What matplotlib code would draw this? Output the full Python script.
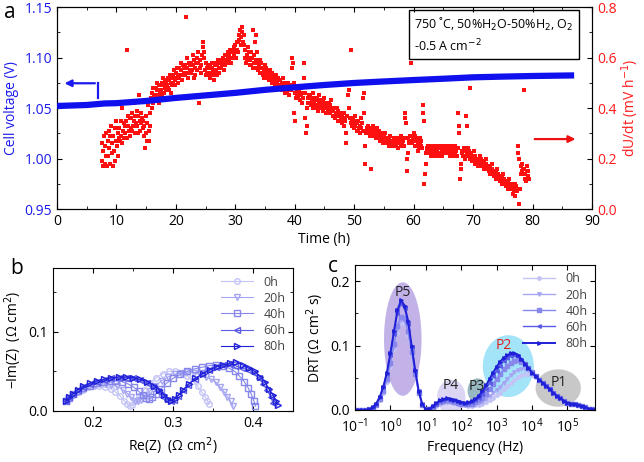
import numpy as np
import matplotlib
matplotlib.use("Agg")
import matplotlib.pyplot as plt
from matplotlib.ticker import MultipleLocator

plt.rcParams['font.family'] = ['Open Sans', 'DejaVu Sans']
plt.rcParams['font.size'] = 10
plt.rcParams['xtick.direction'] = 'in'
plt.rcParams['ytick.direction'] = 'in'

# ---- panel a: cell voltage and degradation rate ----
volt_t = [0, 5, 8, 10, 15, 20, 25, 30, 35, 40, 45, 50, 55, 60, 65, 70, 75, 80, 87]
volt_v = [1.052, 1.053, 1.0545, 1.0548, 1.057, 1.060, 1.0625, 1.065, 1.068, 1.0705,
          1.0728, 1.0748, 1.0763, 1.0777, 1.079, 1.0804, 1.0811, 1.0817, 1.0823]

# dU/dt readings, one row per hour starting at 7.5 h, 10 readings per row (every 6 min)
rate_start = 7.5
rate_rows = [
    [0.19, 0.26, 0.17, 0.23, 0.29, 0.18, 0.25, 0.21, 0.30, 0.17],
    [0.27, 0.21, 0.31, 0.24, 0.18, 0.29, 0.33, 0.22, 0.26, 0.17],
    [0.29, 0.23, 0.32, 0.19, 0.27, 0.35, 0.25, 0.30, 0.21, 0.28],
    [0.32, 0.27, 0.35, 0.29, 0.40, 0.26, 0.31, 0.34, 0.28, 0.33],
    [0.30, 0.35, 0.63, 0.28, 0.33, 0.37, 0.31, 0.29, 0.36, 0.32],
    [0.36, 0.31, 0.38, 0.33, 0.42, 0.35, 0.30, 0.37, 0.34, 0.39],
    [0.33, 0.37, 0.30, 0.45, 0.35, 0.31, 0.38, 0.34, 0.36, 0.32],
    [0.35, 0.29, 0.33, 0.24, 0.37, 0.30, 0.27, 0.34, 0.41, 0.31],
    [0.27, 0.38, 0.33, 0.44, 0.40, 0.46, 0.42, 0.48, 0.45, 0.43],
    [0.44, 0.48, 0.43, 0.47, 0.50, 0.45, 0.42, 0.49, 0.46, 0.44],
    [0.47, 0.50, 0.45, 0.49, 0.52, 0.46, 0.48, 0.51, 0.47, 0.50],
    [0.49, 0.52, 0.48, 0.51, 0.47, 0.53, 0.50, 0.46, 0.52, 0.49],
    [0.53, 0.50, 0.55, 0.51, 0.49, 0.54, 0.52, 0.56, 0.50, 0.53],
    [0.52, 0.56, 0.44, 0.55, 0.58, 0.53, 0.51, 0.57, 0.54, 0.56],
    [0.57, 0.53, 0.76, 0.56, 0.60, 0.54, 0.52, 0.58, 0.55, 0.57],
    [0.54, 0.58, 0.55, 0.61, 0.57, 0.52, 0.59, 0.56, 0.53, 0.58],
    [0.60, 0.55, 0.62, 0.58, 0.42, 0.56, 0.59, 0.54, 0.57, 0.61],
    [0.64, 0.66, 0.62, 0.60, 0.55, 0.58, 0.53, 0.56, 0.54, 0.57],
    [0.53, 0.56, 0.52, 0.57, 0.54, 0.56, 0.58, 0.53, 0.55, 0.51],
    [0.57, 0.54, 0.58, 0.55, 0.53, 0.57, 0.59, 0.56, 0.54, 0.58],
    [0.58, 0.56, 0.59, 0.57, 0.60, 0.58, 0.55, 0.61, 0.57, 0.59],
    [0.61, 0.58, 0.60, 0.62, 0.59, 0.61, 0.63, 0.58, 0.60, 0.62],
    [0.60, 0.63, 0.61, 0.64, 0.62, 0.65, 0.60, 0.63, 0.66, 0.62],
    [0.66, 0.69, 0.67, 0.71, 0.68, 0.65, 0.72, 0.70, 0.66, 0.69],
    [0.65, 0.60, 0.63, 0.58, 0.61, 0.59, 0.64, 0.60, 0.62, 0.57],
    [0.59, 0.57, 0.62, 0.60, 0.56, 0.71, 0.58, 0.61, 0.66, 0.59],
    [0.69, 0.62, 0.56, 0.58, 0.55, 0.57, 0.54, 0.59, 0.56, 0.58],
    [0.54, 0.56, 0.53, 0.55, 0.52, 0.57, 0.54, 0.56, 0.53, 0.55],
    [0.52, 0.54, 0.51, 0.53, 0.55, 0.52, 0.50, 0.54, 0.53, 0.51],
    [0.50, 0.52, 0.49, 0.51, 0.53, 0.50, 0.48, 0.52, 0.51, 0.49],
    [0.49, 0.51, 0.48, 0.50, 0.47, 0.49, 0.52, 0.48, 0.50, 0.46],
    [0.47, 0.49, 0.46, 0.48, 0.50, 0.47, 0.45, 0.49, 0.47, 0.48],
    [0.56, 0.60, 0.58, 0.50, 0.38, 0.35, 0.46, 0.44, 0.47, 0.45],
    [0.46, 0.44, 0.47, 0.45, 0.43, 0.48, 0.45, 0.42, 0.46, 0.44],
    [0.58, 0.52, 0.46, 0.36, 0.30, 0.33, 0.40, 0.44, 0.42, 0.45],
    [0.42, 0.45, 0.41, 0.44, 0.43, 0.40, 0.46, 0.42, 0.44, 0.41],
    [0.43, 0.40, 0.44, 0.41, 0.39, 0.42, 0.45, 0.40, 0.43, 0.41],
    [0.42, 0.40, 0.43, 0.39, 0.41, 0.44, 0.40, 0.38, 0.42, 0.41],
    [0.41, 0.39, 0.42, 0.40, 0.38, 0.41, 0.43, 0.39, 0.40, 0.37],
    [0.39, 0.37, 0.40, 0.36, 0.38, 0.37, 0.40, 0.35, 0.39, 0.38],
    [0.37, 0.35, 0.38, 0.36, 0.34, 0.37, 0.35, 0.38, 0.33, 0.36],
    [0.35, 0.26, 0.30, 0.37, 0.45, 0.50, 0.47, 0.40, 0.36, 0.34],
    [0.63, 0.35, 0.33, 0.36, 0.32, 0.34, 0.37, 0.33, 0.35, 0.31],
    [0.34, 0.31, 0.35, 0.32, 0.30, 0.33, 0.36, 0.32, 0.34, 0.31],
    [0.44, 0.46, 0.38, 0.25, 0.18, 0.30, 0.32, 0.31, 0.33, 0.30],
    [0.31, 0.29, 0.32, 0.16, 0.30, 0.31, 0.33, 0.29, 0.32, 0.30],
    [0.29, 0.31, 0.28, 0.30, 0.32, 0.29, 0.31, 0.28, 0.30, 0.27],
    [0.29, 0.27, 0.30, 0.28, 0.26, 0.29, 0.27, 0.30, 0.28, 0.26],
    [0.28, 0.26, 0.27, 0.25, 0.28, 0.27, 0.29, 0.26, 0.27, 0.25],
    [0.27, 0.25, 0.28, 0.26, 0.27, 0.25, 0.28, 0.26, 0.24, 0.27],
    [0.26, 0.28, 0.27, 0.25, 0.29, 0.26, 0.28, 0.27, 0.25, 0.28],
    [0.38, 0.36, 0.34, 0.20, 0.15, 0.22, 0.28, 0.26, 0.27, 0.29],
    [0.58, 0.27, 0.29, 0.26, 0.28, 0.30, 0.27, 0.25, 0.29, 0.28],
    [0.27, 0.25, 0.23, 0.26, 0.24, 0.28, 0.26, 0.25, 0.27, 0.24],
    [0.41, 0.38, 0.35, 0.10, 0.14, 0.18, 0.22, 0.24, 0.23, 0.25],
    [0.24, 0.22, 0.25, 0.23, 0.21, 0.24, 0.22, 0.25, 0.23, 0.21],
    [0.22, 0.24, 0.23, 0.25, 0.22, 0.23, 0.21, 0.24, 0.22, 0.25],
    [0.24, 0.22, 0.23, 0.21, 0.24, 0.23, 0.25, 0.22, 0.24, 0.23],
    [0.22, 0.24, 0.23, 0.25, 0.22, 0.24, 0.21, 0.23, 0.25, 0.22],
    [0.24, 0.22, 0.23, 0.21, 0.25, 0.22, 0.24, 0.23, 0.21, 0.24],
    [0.38, 0.33, 0.30, 0.12, 0.16, 0.18, 0.22, 0.23, 0.21, 0.24],
    [0.21, 0.23, 0.20, 0.37, 0.33, 0.22, 0.24, 0.21, 0.23, 0.20],
    [0.48, 0.20, 0.22, 0.19, 0.21, 0.20, 0.23, 0.19, 0.21, 0.18],
    [0.20, 0.18, 0.19, 0.17, 0.20, 0.18, 0.21, 0.19, 0.17, 0.20],
    [0.19, 0.17, 0.18, 0.16, 0.19, 0.17, 0.20, 0.18, 0.16, 0.17],
    [0.17, 0.15, 0.16, 0.14, 0.17, 0.15, 0.18, 0.16, 0.14, 0.15],
    [0.15, 0.13, 0.14, 0.12, 0.15, 0.13, 0.16, 0.14, 0.12, 0.13],
    [0.13, 0.11, 0.12, 0.10, 0.13, 0.11, 0.14, 0.12, 0.10, 0.11],
    [0.11, 0.09, 0.10, 0.08, 0.11, 0.09, 0.12, 0.10, 0.08, 0.09],
    [0.10, 0.08, 0.06, 0.09, 0.07, 0.10, 0.05, 0.08, 0.09, 0.07],
    [0.25, 0.22, 0.20, 0.02, 0.08, 0.14, 0.17, 0.15, 0.18, 0.16],
    [0.47, 0.16, 0.12, 0.14, 0.11, 0.15, 0.17, 0.13, 0.15, 0.12],
]

# ---- panel b: Nyquist plots ----
eis_labels = ['0h', '20h', '40h', '60h', '80h']
eis_colors = ['#c4c4f6', '#a6a6f2', '#8787ec', '#5b5be6', '#2020d8']
eis_markers = ['o', 'v', 's', '<', '>']
re_z = [
    [0.166, 0.170, 0.175, 0.181, 0.187, 0.194, 0.201, 0.208, 0.215, 0.222, 0.228, 0.234,
     0.239, 0.243, 0.246, 0.249, 0.253, 0.258, 0.264, 0.271, 0.279, 0.287, 0.295, 0.303,
     0.311, 0.318, 0.325, 0.331, 0.336, 0.340, 0.343, 0.345],
    [0.166, 0.170, 0.175, 0.181, 0.188, 0.195, 0.202, 0.209, 0.216, 0.223, 0.230, 0.237,
     0.243, 0.248, 0.252, 0.256, 0.260, 0.265, 0.271, 0.278, 0.286, 0.294, 0.302, 0.310,
     0.318, 0.326, 0.334, 0.341, 0.348, 0.354, 0.359, 0.364, 0.368, 0.372, 0.375],
    [0.166, 0.170, 0.175, 0.181, 0.188, 0.196, 0.204, 0.212, 0.220, 0.228, 0.236, 0.244,
     0.251, 0.257, 0.262, 0.266, 0.270, 0.274, 0.279, 0.285, 0.292, 0.300, 0.309, 0.318,
     0.327, 0.336, 0.345, 0.354, 0.362, 0.370, 0.377, 0.383, 0.389, 0.394, 0.398, 0.401, 0.403],
    [0.166, 0.170, 0.175, 0.181, 0.188, 0.196, 0.205, 0.214, 0.223, 0.232, 0.241, 0.250,
     0.259, 0.267, 0.275, 0.282, 0.288, 0.293, 0.297, 0.301, 0.306, 0.312, 0.319, 0.327,
     0.336, 0.345, 0.354, 0.362, 0.370, 0.378, 0.386, 0.394, 0.401, 0.407, 0.413, 0.418,
     0.422, 0.425],
    [0.166, 0.170, 0.175, 0.181, 0.188, 0.196, 0.205, 0.214, 0.223, 0.232, 0.241, 0.250,
     0.259, 0.268, 0.276, 0.283, 0.289, 0.294, 0.298, 0.302, 0.307, 0.313, 0.320, 0.328,
     0.337, 0.346, 0.355, 0.363, 0.371, 0.379, 0.387, 0.395, 0.402, 0.409, 0.415, 0.420,
     0.425, 0.429, 0.431],
]
im_z = [
    [0.012, 0.016, 0.020, 0.024, 0.027, 0.030, 0.031, 0.031, 0.030, 0.028, 0.024, 0.019,
     0.013, 0.009, 0.006, 0.007, 0.012, 0.019, 0.027, 0.035, 0.042, 0.047, 0.050, 0.050,
     0.048, 0.044, 0.038, 0.031, 0.024, 0.018, 0.013, 0.009],
    [0.012, 0.016, 0.020, 0.024, 0.028, 0.031, 0.033, 0.034, 0.034, 0.033, 0.031, 0.027,
     0.022, 0.017, 0.013, 0.012, 0.014, 0.019, 0.025, 0.032, 0.038, 0.043, 0.046, 0.048,
     0.049, 0.048, 0.046, 0.043, 0.040, 0.036, 0.030, 0.024, 0.018, 0.012, 0.006],
    [0.012, 0.016, 0.021, 0.025, 0.029, 0.032, 0.035, 0.037, 0.038, 0.038, 0.037, 0.034,
     0.030, 0.025, 0.020, 0.016, 0.015, 0.017, 0.022, 0.028, 0.035, 0.041, 0.046, 0.050,
     0.053, 0.055, 0.057, 0.058, 0.057, 0.054, 0.050, 0.044, 0.037, 0.029, 0.021, 0.013, 0.006],
    [0.012, 0.017, 0.022, 0.026, 0.030, 0.034, 0.037, 0.039, 0.041, 0.042, 0.042, 0.041,
     0.039, 0.035, 0.030, 0.024, 0.018, 0.014, 0.012, 0.014, 0.019, 0.026, 0.033, 0.040,
     0.046, 0.051, 0.055, 0.058, 0.059, 0.057, 0.054, 0.052, 0.048, 0.042, 0.034, 0.026,
     0.018, 0.010],
    [0.012, 0.017, 0.022, 0.027, 0.031, 0.035, 0.038, 0.040, 0.042, 0.043, 0.043, 0.042,
     0.040, 0.037, 0.032, 0.026, 0.020, 0.015, 0.013, 0.015, 0.020, 0.027, 0.034, 0.041,
     0.047, 0.052, 0.056, 0.058, 0.060, 0.062, 0.058, 0.054, 0.050, 0.043, 0.036, 0.028,
     0.020, 0.013, 0.008],
]

# ---- panel c: DRT, log10(f) from -1.0 to 5.8 in steps of 0.1 ----
drt_logf = np.round(np.arange(-1.0, 5.81, 0.1), 1)
drt = [
    [0, 0, 0, 0, 0.001, 0.003, 0.007, 0.015, 0.027, 0.044,
     0.067, 0.094, 0.120, 0.135, 0.134, 0.116, 0.086, 0.054, 0.026, 0.008,
     0.001, 0.001, 0.003, 0.006, 0.009, 0.011, 0.012, 0.012, 0.011, 0.009,
     0.008, 0.007, 0.006, 0.006, 0.007, 0.008, 0.010, 0.012, 0.015, 0.019,
     0.023, 0.027, 0.032, 0.037, 0.042, 0.047, 0.051, 0.054, 0.056, 0.056,
     0.054, 0.051, 0.047, 0.042, 0.037, 0.032, 0.027, 0.022, 0.018, 0.014,
     0.011, 0.010, 0.009, 0.008, 0.006, 0.004, 0.002, 0.001, 0.000],
    [0, 0, 0, 0, 0.001, 0.003, 0.008, 0.016, 0.029, 0.046,
     0.070, 0.098, 0.125, 0.140, 0.138, 0.119, 0.088, 0.055, 0.026, 0.008,
     0.001, 0.002, 0.004, 0.008, 0.011, 0.013, 0.013, 0.013, 0.012, 0.010,
     0.009, 0.008, 0.008, 0.008, 0.009, 0.011, 0.013, 0.017, 0.021, 0.026,
     0.031, 0.036, 0.042, 0.048, 0.054, 0.059, 0.062, 0.064, 0.064, 0.062,
     0.058, 0.053, 0.047, 0.042, 0.037, 0.032, 0.027, 0.022, 0.018, 0.014,
     0.011, 0.010, 0.009, 0.008, 0.006, 0.004, 0.002, 0.001, 0.000],
    [0, 0, 0, 0, 0.001, 0.003, 0.008, 0.017, 0.030, 0.048,
     0.073, 0.102, 0.130, 0.145, 0.142, 0.122, 0.090, 0.056, 0.027, 0.008,
     0.001, 0.002, 0.005, 0.009, 0.012, 0.014, 0.015, 0.014, 0.013, 0.011,
     0.010, 0.009, 0.009, 0.010, 0.012, 0.015, 0.019, 0.025, 0.032, 0.040,
     0.048, 0.056, 0.063, 0.069, 0.073, 0.076, 0.077, 0.075, 0.071, 0.065,
     0.059, 0.053, 0.047, 0.042, 0.037, 0.032, 0.027, 0.022, 0.018, 0.014,
     0.011, 0.010, 0.009, 0.008, 0.006, 0.004, 0.002, 0.001, 0.000],
    [0, 0, 0, 0, 0.001, 0.004, 0.010, 0.020, 0.035, 0.056,
     0.085, 0.118, 0.150, 0.165, 0.158, 0.134, 0.097, 0.060, 0.029, 0.009,
     0.001, 0.002, 0.006, 0.010, 0.014, 0.016, 0.017, 0.016, 0.015, 0.013,
     0.011, 0.010, 0.011, 0.012, 0.015, 0.019, 0.025, 0.033, 0.042, 0.052,
     0.061, 0.069, 0.076, 0.081, 0.084, 0.085, 0.083, 0.078, 0.072, 0.065,
     0.058, 0.052, 0.047, 0.042, 0.037, 0.032, 0.027, 0.022, 0.018, 0.014,
     0.011, 0.010, 0.009, 0.008, 0.006, 0.004, 0.002, 0.001, 0.000],
    [0, 0, 0, 0, 0.001, 0.004, 0.010, 0.020, 0.036, 0.058,
     0.088, 0.122, 0.155, 0.170, 0.162, 0.138, 0.100, 0.062, 0.030, 0.009,
     0.001, 0.002, 0.006, 0.011, 0.015, 0.017, 0.018, 0.017, 0.016, 0.014,
     0.012, 0.011, 0.012, 0.014, 0.017, 0.022, 0.029, 0.038, 0.048, 0.058,
     0.067, 0.075, 0.081, 0.085, 0.088, 0.088, 0.085, 0.079, 0.072, 0.065,
     0.058, 0.052, 0.047, 0.042, 0.037, 0.032, 0.027, 0.022, 0.018, 0.014,
     0.011, 0.010, 0.009, 0.008, 0.006, 0.004, 0.002, 0.001, 0.000],
]

# peak regions: name, centre log10(f), half width (decades), centre y, half height, colour
peaks = [
    ('P5', 0.35, 0.53, 0.110, 0.088, '#c2b2e8'),
    ('P4', 1.72, 0.40, 0.020, 0.027, '#dcd6f4'),
    ('P2', 3.33, 0.72, 0.068, 0.048, '#a4e4f8'),
    ('P3', 2.46, 0.28, 0.030, 0.019, '#98b8c2'),
    ('P1', 4.74, 0.64, 0.034, 0.029, '#c8c8c8'),
]
peak_text = {'P5': (0.36, 0.182), 'P4': (1.71, 0.038), 'P3': (2.45, 0.037),
             'P2': (3.19, 0.100), 'P1': (4.77, 0.043)}

fig = plt.figure(figsize=(6.44, 4.62), dpi=100)

# ---------------- a ----------------
ax = fig.add_axes([0.0885, 0.5476, 0.8307, 0.4372])
ax.plot(volt_t, volt_v, color='#1010ee', lw=4.5, solid_capstyle='butt', zorder=3)
ax.set_xlim(0, 90)
ax.set_ylim(0.95, 1.15)
ax.xaxis.set_major_locator(MultipleLocator(10))
ax.xaxis.set_minor_locator(MultipleLocator(5))
ax.yaxis.set_minor_locator(MultipleLocator(0.025))
ax.tick_params(axis='y', which='both', labelcolor='#1a1aee')
ax.tick_params(which='both', top=True)
ax.set_yticks([0.95, 1.00, 1.05, 1.10, 1.15])
ax.set_yticklabels(['0.95', '1.00', '1.05', '1.10', '1.15'])
ax.set_xlabel('Time (h)', labelpad=2)
ax.set_ylabel('Cell voltage (V)', color='#1a1aee', labelpad=4)
ax.annotate('', xy=(0.8, 1.0745), xytext=(6.85, 1.0745),
            arrowprops=dict(arrowstyle='-|>', color='#1a1aee', lw=1.6, mutation_scale=10))
ax.plot([6.85, 6.85], [1.0595, 1.0745], color='#1a1aee', lw=1.6)

ax2 = ax.twinx()
rt = []
rv = []
for i, row in enumerate(rate_rows):
    for j, v in enumerate(row):
        rt.append(rate_start + i + j / len(row))
        rv.append(v)
ax2.scatter(rt, rv, s=6, marker='s', color='#ff1010', lw=0, zorder=2)
ax2.set_ylim(0, 0.8)
ax2.yaxis.set_major_locator(MultipleLocator(0.2))
ax2.yaxis.set_minor_locator(MultipleLocator(0.1))
ax2.tick_params(axis='y', which='both', labelcolor='#ff1a1a')
ax2.set_ylabel('dU/dt (mV h$^{-1}$)', color='#ff1a1a', labelpad=2)
ax2.annotate('', xy=(87.7, 0.277), xytext=(79.9, 0.277),
             arrowprops=dict(arrowstyle='-|>', color='#ee1010', lw=1.6, mutation_scale=10))
ax.set_zorder(ax2.get_zorder() + 1)
ax.patch.set_visible(False)
ax2.text(0.668, 0.955, '750 \u02daC, 50%H$_2$O-50%H$_2$, O$_2$\n-0.5 A cm$^{-2}$',
         transform=ax2.transAxes, ha='left', va='top', fontsize=9, linespacing=1.3,
         bbox=dict(boxstyle='square,pad=0.4', fc='white', ec='black', lw=1.0))

# ---------------- b ----------------
bx = fig.add_axes([0.0823, 0.1104, 0.3727, 0.3095])
for x, y, lab, c, m in zip(re_z, im_z, eis_labels, eis_colors, eis_markers):
    bx.plot(x, y, color=c, marker=m, ms=4, mfc='none', mec=c, mew=1.0, lw=0.8, label=lab)
bx.set_xlim(0.15, 0.45)
bx.set_ylim(0, 0.18)
bx.xaxis.set_major_locator(MultipleLocator(0.1))
bx.xaxis.set_minor_locator(MultipleLocator(0.05))
bx.yaxis.set_major_locator(MultipleLocator(0.1))
bx.yaxis.set_minor_locator(MultipleLocator(0.05))
bx.tick_params(which='both', top=True, right=True)
bx.set_xlabel('Re(Z)  (\u03a9 cm$^2$)', labelpad=3)
bx.set_ylabel('\u2212Im(Z)  (\u03a9 cm$^2$)', labelpad=3)
bx.legend(loc='upper right', frameon=False, fontsize=9, handlelength=2.6,
          labelspacing=0.25, borderaxespad=0.2, labelcolor='#444444')

# ---------------- c ----------------
cx = fig.add_axes([0.5512, 0.1126, 0.3727, 0.3139])
th = np.linspace(0, 2 * np.pi, 120)
for name, lc, hw, yc, hh, col in peaks:
    cx.fill(10 ** (lc + hw * np.cos(th)), yc + hh * np.sin(th), color=col, lw=0, zorder=1)
for name, (lx, ly) in peak_text.items():
    cx.text(10 ** lx, ly, name, ha='center', va='center', fontsize=10,
            color='#dd2020' if name == 'P2' else '#222222', zorder=4)
freq = 10 ** drt_logf
for i, (y, lab, c, m) in enumerate(zip(drt, eis_labels, eis_colors, eis_markers)):
    cx.plot(freq, y, color=c, marker=m, ms=2.5, mec=c, lw=1.4 if i == 4 else 1.0,
            label=lab, zorder=2 + i * 0.1)
cx.set_xscale('log')
cx.set_xlim(0.1, 6e5)
cx.set_ylim(0, 0.225)
cx.yaxis.set_major_locator(MultipleLocator(0.1))
cx.yaxis.set_minor_locator(MultipleLocator(0.05))
cx.set_xticks([1e-1, 1e0, 1e1, 1e2, 1e3, 1e4, 1e5])
cx.tick_params(which='both', top=True, right=True)
cx.tick_params(axis='x', pad=5)
cx.set_xlabel('Frequency (Hz)', labelpad=3)
cx.set_ylabel('DRT (\u03a9 cm$^2$ s)', labelpad=3)
cx.legend(loc='upper right', frameon=False, fontsize=9, handlelength=2.6,
          labelspacing=0.25, borderaxespad=0.2, labelcolor='#444444')

fig.text(10 / 644, 1 - 12 / 462, 'a', fontsize=15, ha='center', va='center')
fig.text(17 / 644, 1 - 268 / 462, 'b', fontsize=15, ha='center', va='center')
fig.text(333 / 644, 1 - 266 / 462, 'c', fontsize=15, ha='center', va='center')

fig.savefig('out.png', dpi=100)
